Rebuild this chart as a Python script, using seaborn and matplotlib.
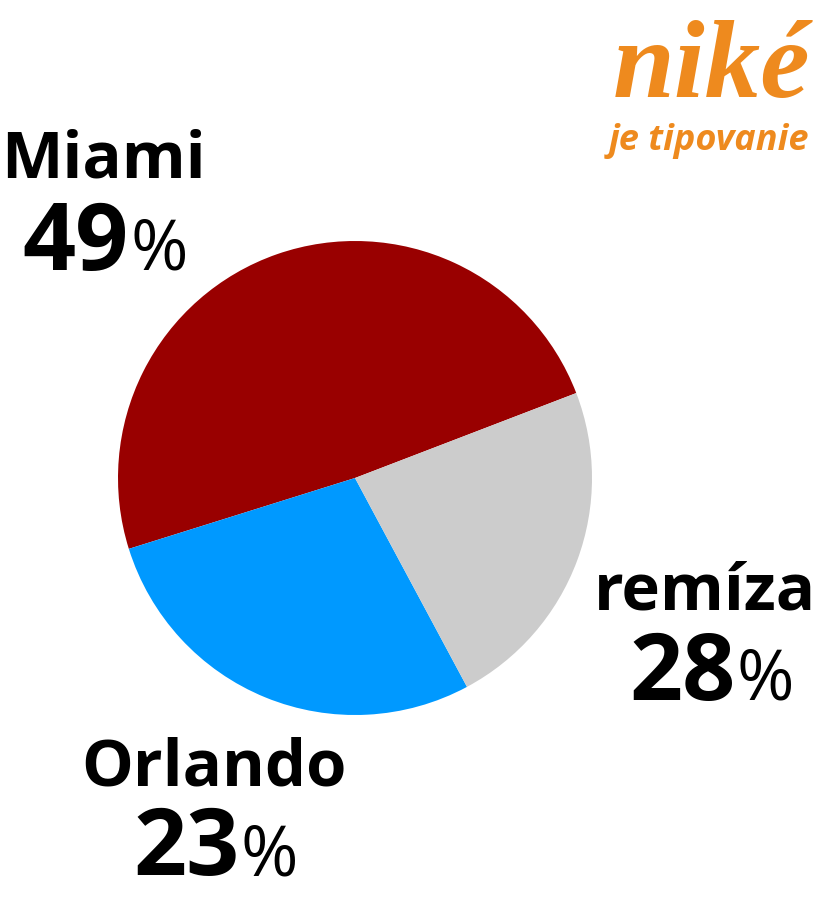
import matplotlib
matplotlib.use("Agg")
import matplotlib.pyplot as plt
from matplotlib.font_manager import FontProperties
import seaborn as sns

# slices as drawn (counter-clockwise from the right)
slice_names = ["Miami", "Orlando", "remíza"]
slice_sizes = [49, 28, 23]
slice_colors = ["#990000", "#0099FF", "#CCCCCC"]

# labels as printed next to the pie
label_names = ["Miami", "remíza", "Orlando"]
label_pcts = [49, 28, 23]

W, H = 817, 902


def fx(x):
    return x / W


def fy(y):
    return 1 - y / H


sns.set_theme(style="white")
plt.rcParams["font.family"] = ["Open Sans", "DejaVu Sans"]

fig = plt.figure(figsize=(W / 100, H / 100), dpi=100)
fig.patch.set_facecolor("white")

cx, cy, r = 355, 478, 237
ax = fig.add_axes([fx(cx - r), fy(cy + r), 2 * r / W, 2 * r / H])
ax.pie(slice_sizes, colors=slice_colors, startangle=21, counterclock=True,
       wedgeprops=dict(linewidth=0))
ax.set_xlim(-1, 1)
ax.set_ylim(-1, 1)
ax.set_aspect("equal")
ax.axis("off")

# label layout: name position (center x, baseline y), split x for "%", pct baseline
layout = {
    "Miami": dict(nx=103, ny=178, sx=129, py=270),
    "remíza": dict(nx=705, ny=610, sx=736, py=700),
    "Orlando": dict(nx=214, ny=785, sx=240, py=875),
}

for name, pct in zip(label_names, label_pcts):
    p = layout[name]
    fig.text(fx(p["nx"]), fy(p["ny"]), name, ha="center", va="baseline",
             fontsize=47, fontweight="bold", color="black")
    fig.text(fx(p["sx"]), fy(p["py"]), str(pct), ha="right", va="baseline",
             fontsize=67, fontweight="bold", color="black")
    fig.text(fx(p["sx"] + 1), fy(p["py"]), "%", ha="left", va="baseline",
             fontsize=50, fontweight="normal", color="black")

# logo
orange = "#EE8A1E"
logo_font = FontProperties(family="Liberation Serif", style="italic",
                           weight="bold", size=80)
fig.text(fx(810), fy(97), "niké", ha="right", va="baseline",
         fontproperties=logo_font, color=orange)
fig.text(fx(809), fy(150), "je tipovanie", ha="right", va="baseline",
         fontsize=26, fontweight="bold", fontstyle="italic", color=orange)

fig.savefig("out.png", dpi=100, facecolor="white")
